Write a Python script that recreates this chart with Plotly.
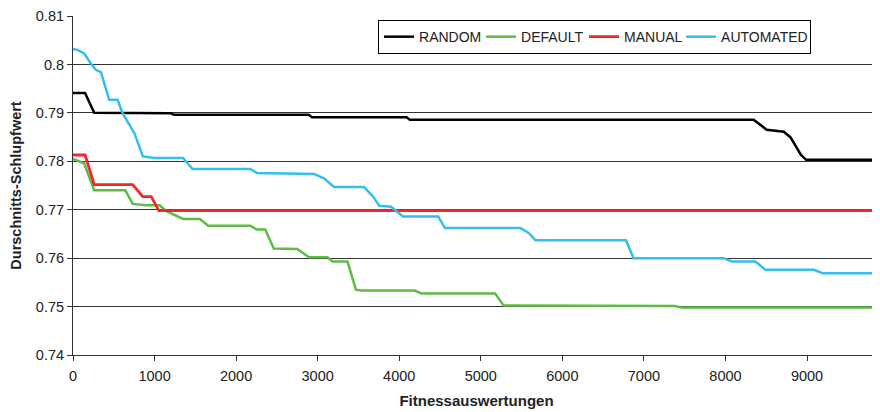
import plotly.graph_objects as go

# RANDOM (black)
random_x = [0, 148, 260, 1200, 1240, 2890, 2930, 4090, 4130, 8346, 8506, 8716, 8800, 8926, 8990, 9900]
random_y = [0.7941, 0.7941, 0.7900, 0.7899, 0.7896, 0.7896, 0.7891, 0.7891, 0.7886, 0.7886, 0.7865, 0.7861, 0.7849, 0.7813, 0.7803, 0.7803]

# DEFAULT (green)
default_x = [0, 136, 260, 642, 732, 897, 1062, 1144, 1350, 1556, 1658, 2173, 2255, 2358, 2461, 2749, 2893, 3119, 3181, 3366, 3469, 3531, 4189, 4272, 5177, 5280, 7380, 7460, 9900]
default_y = [0.7805, 0.7796, 0.7740, 0.7740, 0.7712, 0.7709, 0.7709, 0.7697, 0.7681, 0.7681, 0.7667, 0.7667, 0.7659, 0.7659, 0.7620, 0.7619, 0.7602, 0.7602, 0.7593, 0.7593, 0.7535, 0.7533, 0.7533, 0.7527, 0.7527, 0.7502, 0.7501, 0.7498, 0.7498]

# MANUAL (red)
manual_x = [0, 148, 260, 732, 856, 959, 1053, 9900]
manual_y = [0.7813, 0.7813, 0.7752, 0.7752, 0.7727, 0.7727, 0.7698, 0.7698]

# AUTOMATED (cyan)
automated_x = [0, 53, 136, 218, 280, 342, 444, 547, 609, 753, 856, 1000, 1350, 1465, 2173, 2255, 2955, 3077, 3200, 3568, 3679, 3757, 3901, 4045, 4477, 4560, 5485, 5588, 5670, 6781, 6872, 7975, 8078, 8366, 8490, 9086, 9189, 9900]
automated_y = [0.8032, 0.8030, 0.8023, 0.8002, 0.7989, 0.7984, 0.7927, 0.7927, 0.7899, 0.7858, 0.7810, 0.7807, 0.7807, 0.7784, 0.7784, 0.7776, 0.7774, 0.7765, 0.7747, 0.7747, 0.7727, 0.7708, 0.7706, 0.7686, 0.7686, 0.7662, 0.7662, 0.7652, 0.7637, 0.7637, 0.7600, 0.7600, 0.7593, 0.7593, 0.7576, 0.7576, 0.7569, 0.7569]

x_ticks = [0, 1000, 2000, 3000, 4000, 5000, 6000, 7000, 8000, 9000]
y_ticks = [0.74, 0.75, 0.76, 0.77, 0.78, 0.79, 0.80, 0.81]
y_tick_labels = ["0.74", "0.75", "0.76", "0.77", "0.78", "0.79", "0.8", "0.81"]

series = [
    ("RANDOM", random_x, random_y, "#000000", 2.5, 57),
    ("DEFAULT", default_x, default_y, "#5DBB46", 2.5, 58),
    ("MANUAL", manual_x, manual_y, "#F02828", 2.8, 52),
    ("AUTOMATED", automated_x, automated_y, "#33BEEE", 2.5, 84),
]

fig = go.Figure()
for name, xs, ys, color, w, lw in series:
    fig.add_trace(go.Scatter(x=xs, y=ys, mode="lines", name=name,
                             line=dict(color=color, width=w), legendwidth=lw))

# page body has an 8px margin; figure is sized/placed to compensate
fig.update_layout(
    width=872, height=404,
    margin=dict(l=65, r=0, t=8, b=57),
    paper_bgcolor="white", plot_bgcolor="white",
    font=dict(family="Liberation Sans, Arial, sans-serif", color="#222222", size=14),
    legend=dict(orientation="h", x=0.378, y=0.988, xanchor="left", yanchor="top",
                bordercolor="#000000", borderwidth=1, bgcolor="white",
                font=dict(size=14, color="#222222"), itemwidth=30,
                tracegroupgap=0),
    xaxis=dict(range=[0, 9895], tickvals=x_ticks, showgrid=False, zeroline=False,
               showline=True, linecolor="#333333", linewidth=1,
               ticks="outside", ticklen=5, tickcolor="#333333",
               tickfont=dict(size=14.5), ticklabelstandoff=3,
               title=dict(text="<b>Fitnessauswertungen</b>", font=dict(size=15), standoff=12)),
    yaxis=dict(range=[0.74, 0.81], tickvals=y_ticks, ticktext=y_tick_labels,
               showgrid=True, gridcolor="#333333", gridwidth=1, zeroline=False,
               showline=True, linecolor="#333333", linewidth=1,
               ticks="outside", ticklen=5, tickcolor="#333333",
               tickfont=dict(size=14.5),
               title=dict(text="<b>Durschnitts-Schlupfwert</b>", font=dict(size=14.5), standoff=19)),
)

fig.write_html("out.html")
